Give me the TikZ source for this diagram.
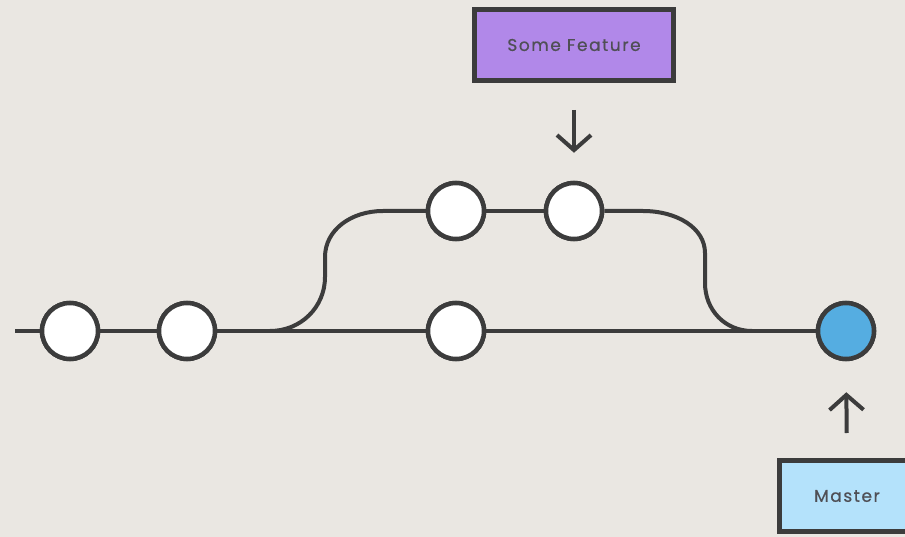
\documentclass[tikz,border=0pt]{standalone}
\usepackage{fontspec}
\setmainfont{Poppins}
\usetikzlibrary{arrows.meta}
\definecolor{bg}{HTML}{EAE7E2}
\definecolor{ink}{HTML}{3C3C3C}
\definecolor{txt}{HTML}{4F4F55}
\definecolor{purp}{HTML}{B188E9}
\definecolor{lblue}{HTML}{B4E2FB}
\definecolor{mblue}{HTML}{55ADE1}
\tikzset{
  x=1pt, y=-1pt,
  commit/.style={circle, draw=ink, line width=4.5pt, fill=white, minimum size=56pt, inner sep=0pt},
  head/.style={commit, fill=mblue},
  label box/.style={draw=ink, line width=5pt, inner sep=0pt, text=txt,
    font=\fontsize{17}{19}\selectfont\addfontfeatures{LetterSpace=9,FakeBold=0.6}},
  edge/.style={draw=ink, line width=4pt},
  pointer/.style={draw=ink, line width=4pt, -{Straight Barb[length=15pt,width=34pt,line width=4pt]}},
}
\begin{document}
\begin{tikzpicture}
\useasboundingbox (0,0) rectangle (905,537);
\fill[bg] (0,0) rectangle (905,537);
\begin{scope}
\clip (0,0) rectangle (905,537);
% commits
\node[commit] (c1) at (70,331) {};
\node[commit] (c2) at (187,331) {};
\node[commit] (c3) at (456,331) {};
\node[commit] (u1) at (456,211) {};
\node[commit] (u2) at (574,211) {};
\node[head] (m) at (846,331) {};
\coordinate (start) at (15,331);
\coordinate (fork) at (270,331);
\coordinate (merge) at (752,331);
% edges
\draw[edge] (start) -- (c1) (c1) -- (c2) (c2) -- (c3) (c3) -- (m);
\draw[edge] (fork) .. controls (301,331) and (325,307) .. (325,277) -- (325,257)
  .. controls (325,230) and (351,211) .. (383,211) -- (u1.west);
\draw[edge] (u1) -- (u2);
\draw[edge] (u2.east) -- (643,211) .. controls (677,211) and (705,228) .. (705,253) -- (705,283)
  .. controls (705,310) and (725,331) .. (merge);
% redraw commits on top
\node[commit] at (c1) {};
\node[commit] at (c2) {};
\node[commit] at (c3) {};
\node[commit] at (u1) {};
\node[commit] at (u2) {};
\node[head] at (m) {};
% labels
\node[label box, fill=purp, minimum width=199pt, minimum height=71pt] (feat) at (574,45) {Some Feature};
\node[label box, fill=lblue, minimum width=136pt, minimum height=71pt] (master) at (847,496) {Master};
\draw[pointer, shorten <=27pt, shorten >=28pt] (feat.south) -- (u2.north);
\draw[pointer, shorten <=25pt, shorten >=31pt] (master.north) -- (m.south);
\end{scope}
\end{tikzpicture}
\end{document}
